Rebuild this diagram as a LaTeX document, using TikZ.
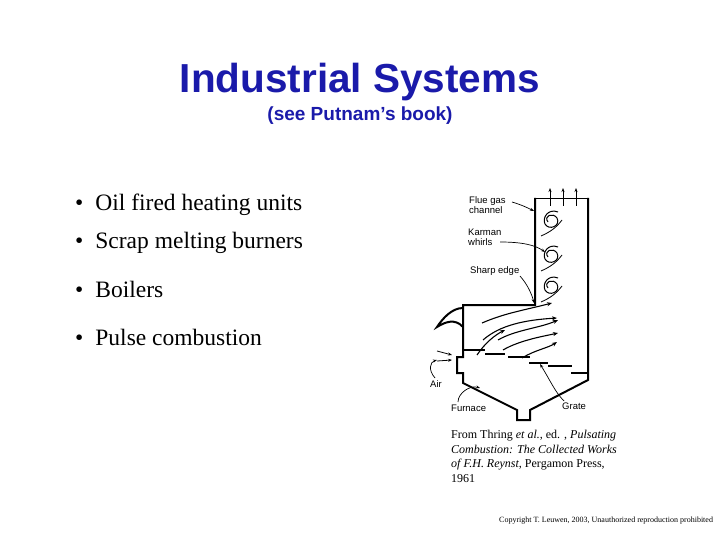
\documentclass[tikz,border=0pt]{standalone}
\usepackage{fontspec}
\setmainfont{Liberation Serif}
\setsansfont{Liberation Sans}
\usetikzlibrary{arrows.meta}
\definecolor{titleblue}{RGB}{26,26,170}
\begin{document}
\begin{tikzpicture}[x=1pt,y=-1pt,
  wall/.style={line width=2pt},
  flow/.style={line width=1.1pt,-{Stealth[length=5pt,width=4pt]}},
  lbl/.style={font=\sffamily\fontsize{9.5}{10}\selectfont,anchor=west,inner sep=0,align=left},
  lead/.style={line width=0.7pt,-{Stealth[length=4pt]}},
  bul/.style={font=\fontsize{23.5}{26}\selectfont,anchor=west,inner sep=0},
  captext/.style={font=\fontsize{12}{14.6}\selectfont,anchor=north west,inner sep=0,align=left}]
\useasboundingbox (0,0) rectangle (720,540);
\node[font=\sffamily\bfseries\fontsize{40.5}{44}\selectfont,text=titleblue] (title) at (360,82) {Industrial Systems};
\node[font=\sffamily\bfseries\fontsize{19}{22}\selectfont,text=titleblue] (sub) at (360,116) {(see Putnam’s book)};
\foreach \y/\t/\n in {205/Oil fired heating units/b1,243/Scrap melting burners/b2,289/Boilers/b3,337/Pulse combustion/b4}{
  \node[bul] (\n) at (75,\y) {•\hspace{12pt}\t};}
% furnace
\draw[wall] (535,198) -- (535,305) -- (463,305) -- (463,357) -- (457,357) -- (457,373) -- (463,373) -- (463,383)
  -- (517,410) -- (517,420) -- (530,420) -- (530,410) -- (588,380) -- (588,198);
\draw[line width=0.8pt] (535,198) -- (588,198);
\draw[wall] (463,327) .. controls (455,318) and (445,322) .. (437,327) .. controls (443,318) and (452,308) .. (463,308);
% exhaust arrows
\foreach \x in {550,563,576}{\draw[line width=1pt,-{Stealth[length=4pt]}] (\x,206) -- (\x,188);}
% whirls
\foreach \y in {222,257,288}{
  \draw[line width=1pt] (548,\y) .. controls (543,\y-6) and (553,\y-10) .. (557,\y-4) .. controls (561,\y+4) and (549,\y+9) .. (545,\y+2) .. controls (542,\y-4) and (548,\y-14) .. (558,\y-10);
  \draw[line width=0.8pt] (541,\y+14) .. controls (550,\y+10) and (556,\y+6) .. (562,\y-2);}
% flow
\draw[flow] (482,323) .. controls (505,313) and (525,310) .. (552,303);
\draw[flow] (483,340) .. controls (500,325) and (525,320) .. (557,318);
\draw[flow] (498,340) .. controls (515,330) and (540,328) .. (558,320);
\draw[flow] (503,350) .. controls (520,340) and (545,336) .. (558,333);
\draw[flow] (522,358) .. controls (535,350) and (548,348) .. (557,342);
\draw[flow] (477,355) .. controls (485,343) and (495,335) .. (505,330);
% grate
\foreach \a/\b/\y in {463/485/350,485/505/354,508/530/357,529/548/363,548/572/366,571/588/373}{\draw[line width=1.1pt] (\a,\y) -- (\b,\y);}
% air
\draw[line width=0.8pt,-{Stealth[length=4pt]}] (437,351) -- (452,355);
\draw[line width=0.8pt,-{Stealth[length=4pt]}] (437,361) -- (452,360);
\node[lbl] (air) at (430,384) {Air};
\draw[lead] (435,378) .. controls (428,370) and (430,362) .. (437,360);
% labels
\node[lbl] (flue) at (469,205) {Flue gas\\channel};
\draw[lead] (512,202) .. controls (522,205) and (528,208) .. (534,211);
\node[lbl] (karman) at (468,237) {Karman\\whirls};
\draw[lead] (500,242) .. controls (522,242) and (535,245) .. (545,252);
\node[lbl] (sharp) at (470,271) {Sharp edge};
\draw[lead] (520,276) .. controls (528,285) and (532,295) .. (534,303);
\node[lbl] (furn) at (451,408) {Furnace};
\draw[lead] (458,402) .. controls (458,393) and (470,385) .. (480,388);
\node[lbl] (grate) at (562,406) {Grate};
\draw[lead] (564,401) .. controls (555,392) and (550,380) .. (540,364);
% caption
\node[captext] (capt) at (451,430) {From Thring \textit{et al.}, ed. , \textit{Pulsating}\\\textit{Combustion: The Collected Works}\\\textit{of F.H. Reynst}, Pergamon Press,\\1961};
\node[font=\fontsize{8}{9}\selectfont,anchor=west,inner sep=0] (copy) at (499,521) {Copyright T. Leuwen, 2003, Unauthorized reproduction prohibited};
\end{tikzpicture}
\end{document}
